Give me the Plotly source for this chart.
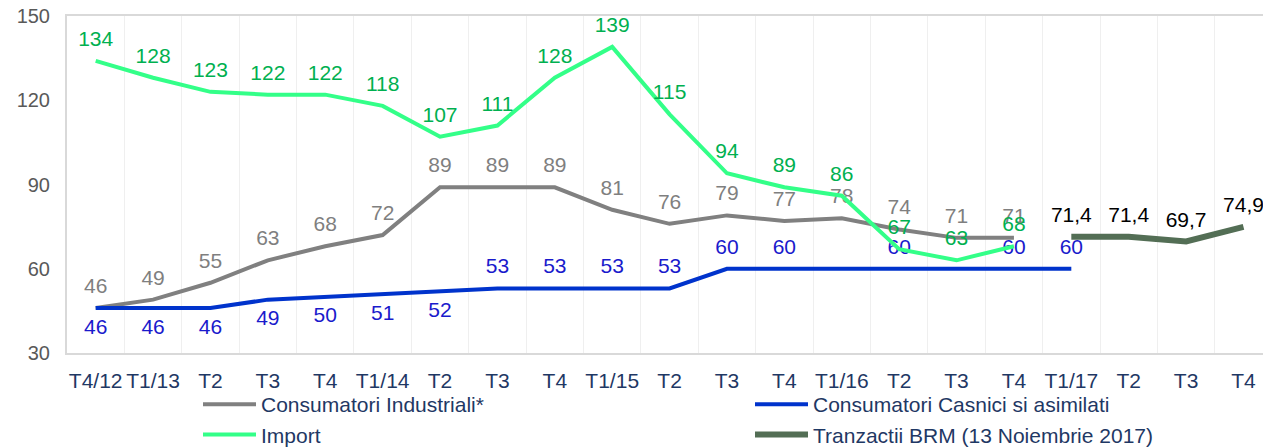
import plotly.graph_objects as go

tick_labels = ["T4/12", "T1/13", "T2", "T3", "T4", "T1/14", "T2", "T3", "T4", "T1/15",
               "T2", "T3", "T4", "T1/16", "T2", "T3", "T4", "T1/17", "T2", "T3", "T4"]

industriali = [46, 49, 55, 63, 68, 72, 89, 89, 89, 81, 76, 79, 77, 78, 74, 71, 71]
casnici = [46, 46, 46, 49, 50, 51, 52, 53, 53, 53, 53, 60, 60, 60, 60, 60, 60, 60]
casnici_labels = ["46", "46", "46", "49", "50", "51", "52", "53", "53", "53", "53",
                  "60", "60", "", "60", "", "60", "60"]
import_vals = [134, 128, 123, 122, 122, 118, 107, 111, 128, 139, 115, 94, 89, 86, 67, 63, 68]
brm_vals = [71.4, 71.4, 69.7, 74.9]
brm_labels = ["71,4", "71,4", "69,7", "74,9"]

FONT = "Liberation Sans, Arial, sans-serif"
LBL = 21

W, H = 1263, 448

x_all = list(range(len(tick_labels)))

fig = go.Figure()

fig.add_trace(go.Scatter(
    x=x_all[:len(industriali)], y=industriali, name="Consumatori Industriali*",
    mode="lines+markers+text", text=[str(v) for v in industriali],
    textposition="top center", textfont=dict(color="#7F7F7F", size=LBL, family=FONT),
    line=dict(color="#808080", width=4),
    marker=dict(size=14, color="rgba(0,0,0,0)"),
    legend="legend", cliponaxis=False,
))

cas_pos = ["bottom center"] * 7 + ["top center"] * (len(casnici) - 7)
fig.add_trace(go.Scatter(
    x=x_all[:len(casnici)], y=casnici, name="Consumatori Casnici si asimilati",
    mode="lines+markers+text", text=casnici_labels,
    textposition=cas_pos, textfont=dict(color="#1A1ACC", size=LBL, family=FONT),
    line=dict(color="#0033CC", width=4),
    marker=dict(size=14, color="rgba(0,0,0,0)"),
    legend="legend2", cliponaxis=False,
))

fig.add_trace(go.Scatter(
    x=x_all[:len(import_vals)], y=import_vals, name="Import",
    mode="lines+markers+text", text=[str(v) for v in import_vals],
    textposition="top center", textfont=dict(color="#00B050", size=LBL, family=FONT),
    line=dict(color="#33FF88", width=4),
    marker=dict(size=14, color="rgba(0,0,0,0)"),
    legend="legend", cliponaxis=False,
))

fig.add_trace(go.Scatter(
    x=x_all[17:17 + len(brm_vals)], y=brm_vals, name="Tranzactii BRM (13 Noiembrie 2017)",
    mode="lines+markers+text", text=brm_labels,
    textposition="top center", textfont=dict(color="#000000", size=LBL, family=FONT),
    line=dict(color="#536E55", width=6),
    marker=dict(size=14, color="rgba(0,0,0,0)"),
    legend="legend2", cliponaxis=False,
))

leg_common = dict(
    orientation="v", xref="container", yref="container",
    xanchor="left", yanchor="top", y=1 - 384 / H,
    font=dict(color="#1F3864", size=21, family=FONT),
    bgcolor="rgba(0,0,0,0)", tracegroupgap=0, itemwidth=53,
)

fig.update_layout(
    width=W, height=H,
    margin=dict(l=67, r=0, t=16, b=95, autoexpand=False),
    paper_bgcolor="white", plot_bgcolor="white",
    font=dict(family=FONT, size=16, color="#595959"),
    showlegend=True,
    legend=dict(x=198 / W, **leg_common),
    legend2=dict(x=750 / W, **leg_common),
    hovermode=False,
)

fig.update_xaxes(
    range=[-0.5, 20.34], automargin=False,
    tickmode="array", tickvals=x_all, ticktext=tick_labels,
    tickfont=dict(color="#1F3864", size=21, family=FONT),
    ticklabelstandoff=8, ticklabeloverflow="allow",
    showgrid=False, zeroline=False, ticks="",
    showline=True, linecolor="#D9D9D9", linewidth=2, mirror=True,
    minor=dict(tickmode="array", tickvals=[i + 0.5 for i in range(20)],
               showgrid=True, gridcolor="#EFEFEF", gridwidth=1),
)
fig.update_yaxes(
    range=[30, 150], tickvals=[30, 60, 90, 120, 150], automargin=False,
    tickfont=dict(color="#595959", size=20, family=FONT),
    ticklabelstandoff=11, ticklabeloverflow="allow",
    showgrid=False, zeroline=False, ticks="",
    showline=True, linecolor="#D9D9D9", linewidth=2,
)

fig.write_html(
    "out.html",
    config={"displayModeBar": False},
    post_script="document.body.style.margin='0';document.body.style.overflow='hidden';",
)
